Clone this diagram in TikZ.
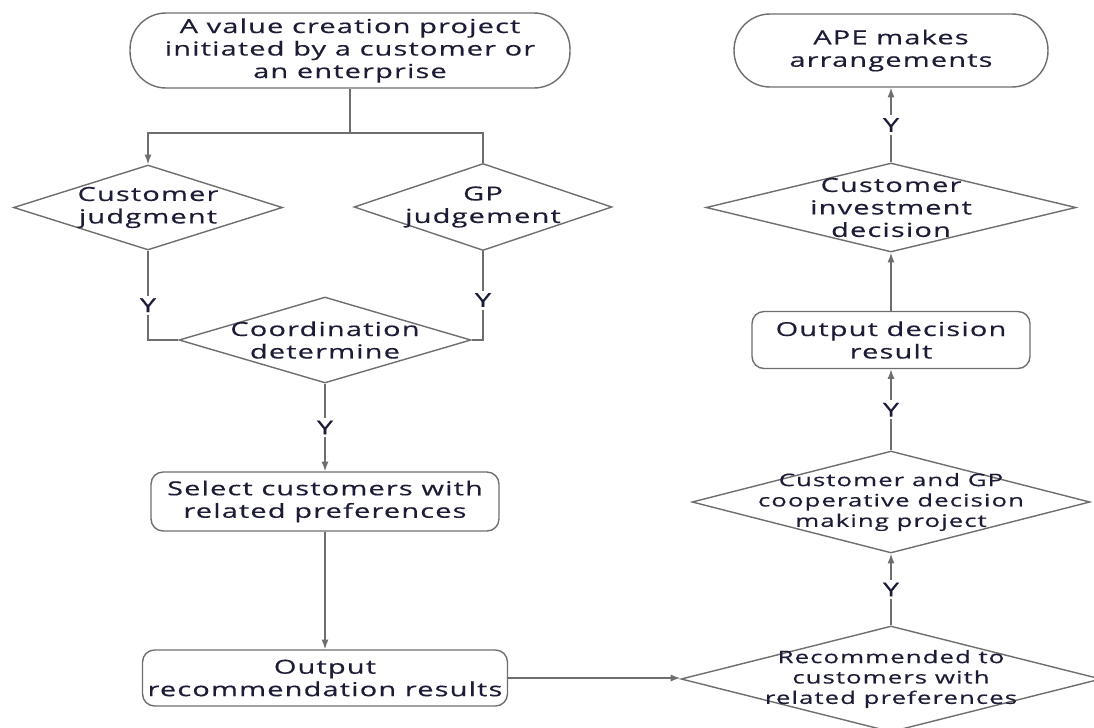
\documentclass[tikz,border=0pt]{standalone}
\usepackage{fontspec}
\setmainfont{Open Sans}[FakeStretch=1.5,LetterSpace=6,FakeBold=0.4]
\usetikzlibrary{arrows.meta,shapes.geometric}

\definecolor{linegray}{HTML}{6E6E6E}
\definecolor{textnavy}{HTML}{1C1C36}

\tikzset{
  term/.style={draw=linegray, line width=0.8pt, rounded corners=7.2mm, inner sep=0pt,
    align=center, text=textnavy, font=\fontsize{11}{12.8}\selectfont},
  proc/.style={draw=linegray, line width=0.8pt, rounded corners=2.4mm, inner sep=0pt,
    align=center, text=textnavy, font=\fontsize{11}{12.8}\selectfont},
  dec/.style={draw=linegray, line width=0.8pt, diamond, inner sep=0pt},
  dectext/.style={align=center, text=textnavy, font=\fontsize{11}{12.8}\selectfont},
  dectextsm/.style={align=center, text=textnavy, font=\fontsize{9.8}{11.6}\selectfont},
  flow/.style={draw=linegray, line width=0.8pt},
  arr/.style={flow, -{Latex[length=5.5pt,width=4pt]}},
  yes/.style={fill=white, inner sep=1.5pt, text=textnavy, font=\fontsize{11}{12.8}\selectfont},
}

\begin{document}
\begin{tikzpicture}[x=0.02cm, y=-0.02cm]
  \useasboundingbox (0,0) rectangle (1094,727);

  % left column
  \node[term, minimum width=88mm, minimum height=15mm] (start) at (350,50.5)
    {A value creation project\\initiated by a customer or\\an enterprise};
  \node[dec, minimum width=53.8mm, minimum height=17mm,
    label={[dectext]center:{Customer\\judgment}}] (cj) at (148,207.5) {};
  \node[dec, minimum width=51.6mm, minimum height=17.4mm,
    label={[dectext]center:{GP\\judgement}}] (gp) at (483,207) {};
  \node[dec, minimum width=58.4mm, minimum height=17.2mm,
    label={[dectext]center:{Coordination\\determine}}] (coord) at (325,340) {};
  \node[proc, minimum width=69.6mm, minimum height=11.8mm] (sel) at (325,501.5)
    {Select customers with\\related preferences};
  \node[proc, minimum width=73mm, minimum height=11.2mm] (out) at (325,678)
    {Output\\recommendation results};

  % right column
  \node[dec, minimum width=84mm, minimum height=21.2mm,
    label={[dectextsm]center:{Recommended to\\customers with\\related preferences}}] (rec) at (891,679) {};
  \node[dec, minimum width=79.6mm, minimum height=20.4mm,
    label={[dectextsm]center:{Customer and GP\\cooperative decision\\making project}}] (cgp) at (891,502) {};
  \node[proc, minimum width=55.6mm, minimum height=11.4mm] (res) at (891,340)
    {Output decision\\result};
  \node[dec, minimum width=74mm, minimum height=17.8mm,
    label={[dectext]center:{Customer\\investment\\decision}}] (inv) at (891,207.5) {};
  \node[term, minimum width=62.8mm, minimum height=14.6mm] (ape) at (891,50.5)
    {APE makes\\arrangements};

  % connectors
  \coordinate (split) at (350,133);
  \draw[flow] (start.south) -- (split);
  \draw[arr] (split) -| (cj.north);
  \draw[flow] (split) -| (gp.north);
  \draw[flow] (cj.south) -- node[yes, pos=0.61] {Y} (cj.south |- coord.west) -- (coord.west);
  \draw[flow] (gp.south) -- node[yes, pos=0.55] {Y} (gp.south |- coord.east) -- (coord.east);
  \draw[arr] (coord.south) -- node[yes] {Y} (sel.north);
  \draw[arr] (sel.south) -- (out.north);
  \draw[arr] (out.east) -- (out.east -| rec.west);
  \draw[arr] (rec.north) -- node[yes] {Y} (cgp.south);
  \draw[arr] (cgp.north) -- node[yes] {Y} (res.south);
  \draw[arr] (res.north) -- (inv.south);
  \draw[arr] (inv.north) -- node[yes] {Y} (ape.south);
\end{tikzpicture}
\end{document}
